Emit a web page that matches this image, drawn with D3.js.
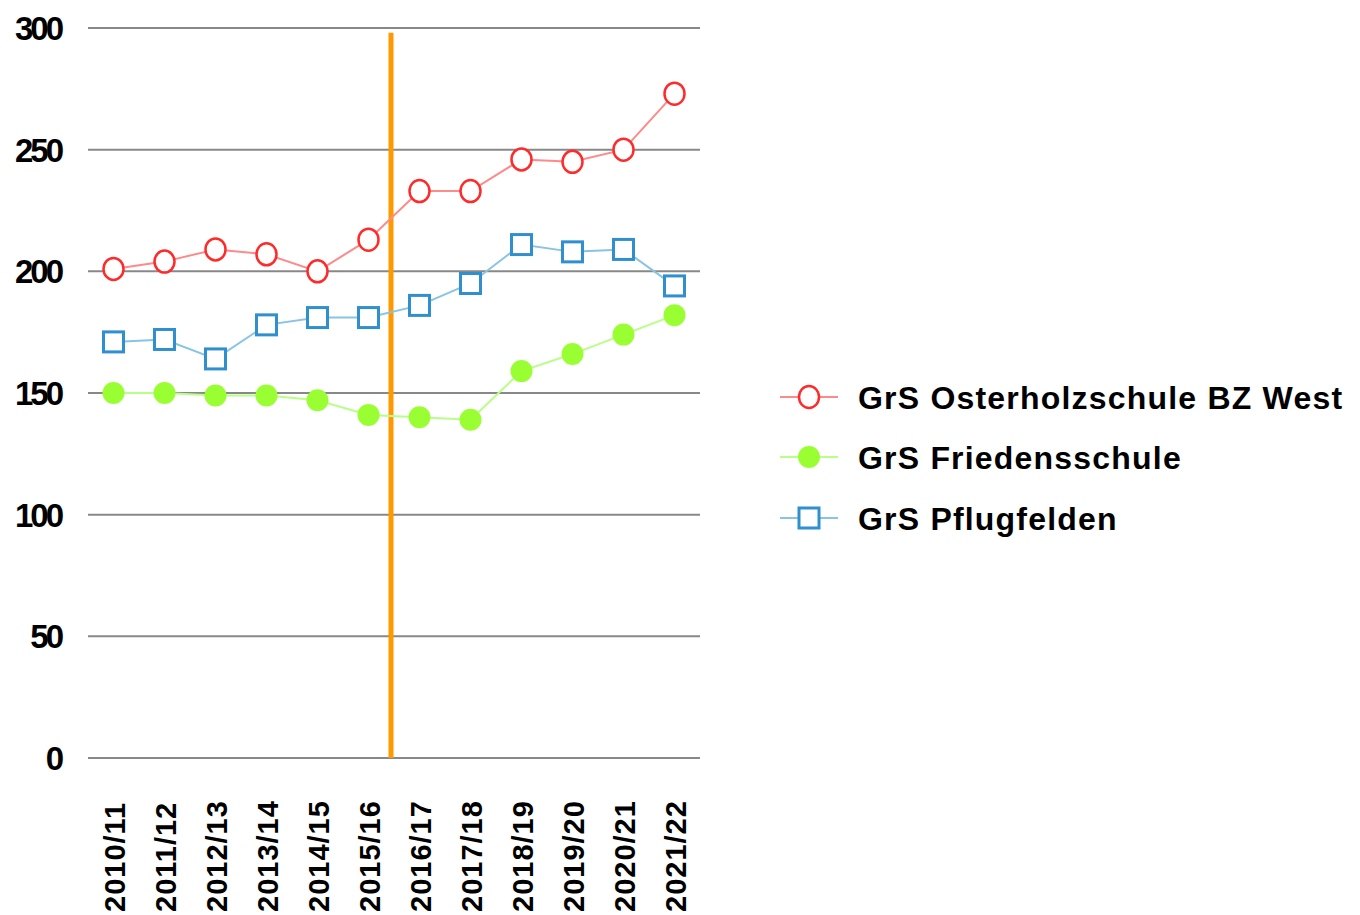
<!DOCTYPE html>
<html><head><meta charset="utf-8">
<script src="https://cdn.jsdelivr.net/npm/d3@7"></script>
<style>body{margin:0;background:#fff;} svg{display:block;}</style>
</head><body>
<script>
const categories = ["2010/11","2011/12","2012/13","2013/14","2014/15","2015/16","2016/17","2017/18","2018/19","2019/20","2020/21","2021/22"];
const osterholz = [201,204,209,207,200,213,233,233,246,245,250,273];
const friedens = [150,150,149,149,147,141,140,139,159,166,174,182];
const pflugfelden = [171,172,164,178,181,181,186,195,211,208,209,194];
const yTicks = [0,50,100,150,200,250,300];
const seriesNames = ["GrS Osterholzschule BZ West","GrS Friedensschule","GrS Pflugfelden"];
const markerLine = "2016/17";

const W = 1360, H = 915;
const svg = d3.select("body").append("svg").attr("width", W).attr("height", H);
const x = d3.scaleBand().domain(categories).range([88, 700]);
const y = d3.scaleLinear().domain([0, 300]).range([758, 28]);
const cx = d => x(d) + x.bandwidth() / 2;
const FONT = "Liberation Sans, Arial, sans-serif";

// grid
svg.append("g").selectAll("line").data(yTicks).join("line")
  .attr("x1", 88).attr("x2", 700).attr("y1", d => y(d)).attr("y2", d => y(d))
  .attr("stroke", "#888").attr("stroke-width", 2);
svg.append("g").selectAll("text").data(yTicks).join("text")
  .attr("x", 61).attr("y", d => y(d)).attr("dy", "0.36em").attr("text-anchor", "end")
  .attr("font-family", FONT).attr("font-weight", "bold")
  .attr("font-size", 33).attr("letter-spacing", -3).attr("fill", "#000").text(d => d);

// x labels
svg.append("g").selectAll("text").data(categories).join("text")
  .attr("transform", d => `translate(${cx(d) + 11},${912}) rotate(-90)`)
  .attr("font-family", FONT).attr("font-weight", "bold")
  .attr("font-size", 29).attr("letter-spacing", 1).attr("fill", "#000").text(d => d);

// orange vertical line
const ox = x(markerLine) - 3;
svg.append("line").attr("x1", ox).attr("x2", ox).attr("y1", y(298)).attr("y2", y(0))
  .attr("stroke", "#ff9900").attr("stroke-width", 5);

const series = [
  {name: seriesNames[0], values: osterholz, line: "#ff8a8a", stroke: "#ff2a2a", fill: "#fff", shape: "circle"},
  {name: seriesNames[1], values: friedens, line: "#b8ff88", stroke: "#99ff33", fill: "#99ff33", shape: "dot"},
  {name: seriesNames[2], values: pflugfelden, line: "#88c4e4", stroke: "#2f8fcf", fill: "#fff", shape: "square"}
];

function drawMarker(g, s, px, py) {
  if (s.shape === "square") {
    g.append("rect").attr("x", px - 10).attr("y", py - 10).attr("width", 20).attr("height", 20)
      .attr("fill", s.fill).attr("stroke", s.stroke).attr("stroke-width", 3);
  } else if (s.shape === "dot") {
    g.append("circle").attr("cx", px).attr("cy", py).attr("r", 11).attr("fill", s.fill);
  } else {
    g.append("ellipse").attr("cx", px).attr("cy", py).attr("rx", 10).attr("ry", 11).attr("fill", s.fill)
      .attr("stroke", s.stroke).attr("stroke-width", 2.5);
  }
}

const line = d3.line().x((d, i) => cx(categories[i])).y(d => y(d));
series.forEach(s => {
  const g = svg.append("g");
  g.append("path").attr("d", line(s.values)).attr("fill", "none")
    .attr("stroke", s.line).attr("stroke-width", 2);
  s.values.forEach((v, i) => drawMarker(g, s, cx(categories[i]), y(v)));
});

// legend
const legY = [397, 457, 518];
series.forEach((s, i) => {
  const g = svg.append("g");
  g.append("line").attr("x1", 780).attr("x2", 838).attr("y1", legY[i]).attr("y2", legY[i])
    .attr("stroke", s.line).attr("stroke-width", 2);
  drawMarker(g, s, 809, legY[i]);
  g.append("text").attr("x", 858).attr("y", legY[i]).attr("dy", "0.36em")
    .attr("font-family", FONT).attr("font-weight", "bold")
    .attr("font-size", 32).attr("letter-spacing", 1.2).attr("fill", "#000").text(s.name);
});
</script>
</body></html>
